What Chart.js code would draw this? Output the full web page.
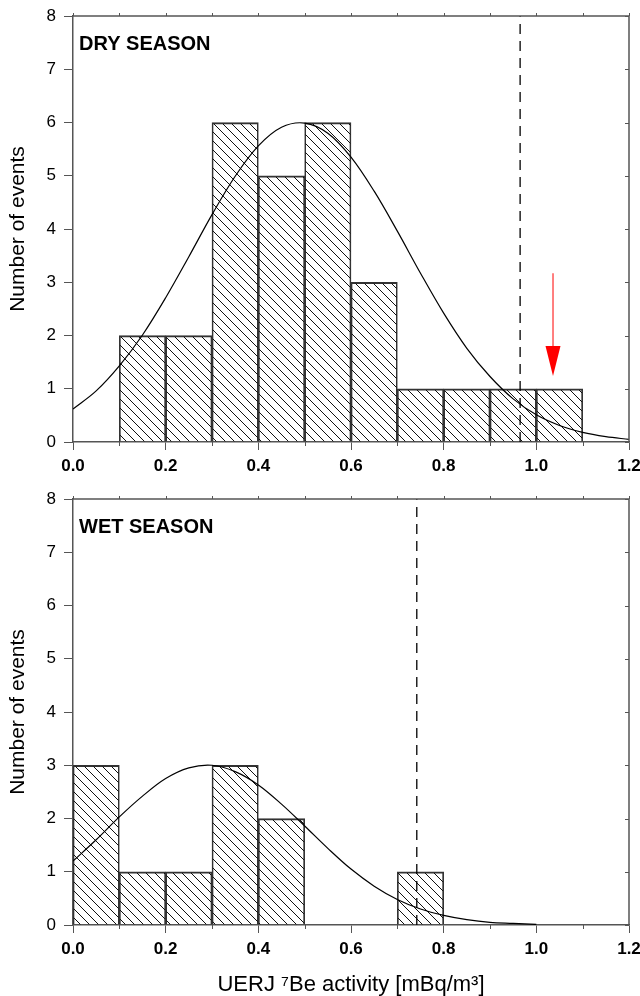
<!DOCTYPE html>
<html lang="en">
<head>
<meta charset="UTF-8">
<script src="https://cdn.jsdelivr.net/npm/chart.js"></script>
<title>UERJ 7Be activity histograms</title>
<style>
  body { margin: 0; background: #fff; }
  .panel { position: absolute; left: 0; width: 640px; }
  #dry { top: 0; height: 484px; }
  #wet { top: 484px; height: 512px; }
</style>
</head>
<body>
<div class="panel" id="dry"><canvas id="dryChart"></canvas></div>
<div class="panel" id="wet"><canvas id="wetChart"></canvas></div>

<script>
// class centres (0.1 wide classes) and number of events
const dryBins = [0.15, 0.25, 0.35, 0.45, 0.55, 0.65, 0.75, 0.85, 0.95, 1.05];
const dryCounts = [2, 2, 6, 5, 6, 3, 1, 1, 1, 1];
const wetBins = [0.05, 0.15, 0.25, 0.35, 0.45, 0.75];
const wetCounts = [3, 1, 1, 3, 2, 1];

// fitted normal curves
const dryCurveX = [0, 0.05, 0.1, 0.15, 0.2, 0.25, 0.3, 0.35, 0.4, 0.45, 0.5, 0.55, 0.6,
  0.65, 0.7, 0.75, 0.8, 0.85, 0.9, 0.95, 1.0, 1.05, 1.1, 1.15, 1.2];
const dryCurveY = [0.62, 0.96, 1.43, 2.01, 2.71, 3.48, 4.27, 4.99, 5.56, 5.91, 5.99, 5.80, 5.35,
  4.71, 3.96, 3.17, 2.42, 1.76, 1.23, 0.81, 0.51, 0.31, 0.18, 0.10, 0.05];
const wetCurveX = [0, 0.05, 0.1, 0.15, 0.2, 0.25, 0.3, 0.35, 0.4, 0.45, 0.5, 0.55, 0.6,
  0.65, 0.7, 0.75, 0.8, 0.85, 0.9, 0.95, 1.0];
const wetCurveY = [1.20, 1.60, 2.03, 2.42, 2.75, 2.95, 3.00, 2.88, 2.63, 2.27, 1.86, 1.44, 1.05,
  0.73, 0.48, 0.30, 0.18, 0.10, 0.05, 0.03, 0.01];

// dashed limit lines and the red arrow (data units)
const dryLimit = 0.965;
const wetLimit = 0.742;
const arrowX = 1.036;
const arrowFrom = 3.17;
const arrowTo = 1.24;

const xMajorTicks = [0, 0.2, 0.4, 0.6, 0.8, 1.0, 1.2];
const xMinorTicks = [0.1, 0.3, 0.5, 0.7, 0.9, 1.1];
const yTicks = [0, 1, 2, 3, 4, 5, 6, 7, 8];

const FONT = "'Liberation Sans', Arial, sans-serif";
const AXIS = '#555';

function hatch() {
  const n = 9;
  const c = document.createElement('canvas');
  c.width = n; c.height = n;
  const g = c.getContext('2d');
  g.strokeStyle = '#111';
  g.lineWidth = 1;
  g.beginPath();
  for (const k of [-n, 0, n]) { g.moveTo(k, 0); g.lineTo(k + n, n); }
  g.stroke();
  return g.createPattern(c, 'repeat');
}

// top / right frame with small ticks, minor ticks on x, panel label, arrow
const extras = {
  id: 'extras',
  afterDraw(chart, args, opts) {
    const { ctx, chartArea: a, scales: { x, y } } = chart;
    ctx.save();
    ctx.strokeStyle = AXIS;
    ctx.lineWidth = 1.5;
    ctx.beginPath();
    ctx.moveTo(a.left, a.top); ctx.lineTo(a.right, a.top); ctx.lineTo(a.right, a.bottom);
    ctx.stroke();
    ctx.lineWidth = 1;
    ctx.beginPath();
    for (const v of xMajorTicks.concat(xMinorTicks)) {
      const px = Math.round(x.getPixelForValue(v)) + 0.5;
      ctx.moveTo(px, a.top); ctx.lineTo(px, a.top - 3);
    }
    for (const v of xMinorTicks) {
      const px = Math.round(x.getPixelForValue(v)) + 0.5;
      ctx.moveTo(px, a.bottom); ctx.lineTo(px, a.bottom + 4);
    }
    for (const v of yTicks) {
      const py = Math.round(y.getPixelForValue(v)) + 0.5;
      ctx.moveTo(a.right, py); ctx.lineTo(a.right - 4, py);
    }
    ctx.stroke();

    ctx.fillStyle = '#000';
    ctx.font = 'bold 20px ' + FONT;
    ctx.textBaseline = 'alphabetic';
    ctx.fillText(opts.label, a.left + 6, a.top + 34);

    if (opts.arrow) {
      const px = x.getPixelForValue(arrowX);
      const y0 = y.getPixelForValue(arrowFrom);
      const y1 = y.getPixelForValue(arrowTo);
      ctx.strokeStyle = '#f55';
      ctx.lineWidth = 1.5;
      ctx.beginPath();
      ctx.moveTo(px, y0); ctx.lineTo(px, y1 - 28);
      ctx.stroke();
      ctx.fillStyle = '#f00';
      ctx.beginPath();
      ctx.moveTo(px - 7.5, y1 - 30); ctx.lineTo(px + 7.5, y1 - 30); ctx.lineTo(px, y1);
      ctx.closePath();
      ctx.fill();
    }
    ctx.restore();
  }
};

function makeChart(id, bins, counts, curveX, curveY, limit, label, arrow, xHeight, padTop, showTitle) {
  new Chart(document.getElementById(id), {
    type: 'bar',
    data: {
      datasets: [
        {
          type: 'line',
          data: curveX.map((v, i) => ({ x: v, y: curveY[i] })),
          borderColor: '#000',
          borderWidth: 1.2,
          pointRadius: 0,
          tension: 0.35,
          order: 1
        },
        {
          type: 'line',
          data: [{ x: limit, y: 0 }, { x: limit, y: 8 }],
          borderColor: '#000',
          borderWidth: 1.3,
          borderDash: [10, 7],
          pointRadius: 0,
          order: 0
        },
        {
          data: bins.map((v, i) => ({ x: v, y: counts[i] })),
          backgroundColor: hatch(),
          borderColor: '#333',
          borderWidth: { top: 1.5, left: 1, right: 1, bottom: 0 },
          borderSkipped: false,
          barPercentage: 1,
          categoryPercentage: 1,
          order: 2
        }
      ]
    },
    options: {
      responsive: true,
      maintainAspectRatio: false,
      animation: false,
      devicePixelRatio: 1,
      layout: { padding: { top: padTop, right: 11, left: 0, bottom: 0 } },
      plugins: {
        legend: { display: false },
        tooltip: { enabled: false },
        extras: { label: label, arrow: arrow }
      },
      scales: {
        x: {
          type: 'linear',
          min: 0,
          max: 1.2,
          offset: false,
          afterBuildTicks: s => { s.ticks = xMajorTicks.map(v => ({ value: v })); },
          afterFit: s => { s.height = xHeight; s.paddingLeft = 0; s.paddingRight = 0; },
          ticks: {
            callback: v => v.toFixed(1),
            font: { family: FONT, size: 17, weight: 'bold' },
            color: '#000',
            padding: 6,
            maxRotation: 0
          },
          grid: { drawOnChartArea: false, offset: false, tickLength: 8, color: AXIS, lineWidth: 1 },
          border: { color: AXIS, width: 1.5 },
          title: {
            display: showTitle,
            text: 'UERJ \u2077Be activity [mBq/m\u00b3]',
            font: { family: FONT, size: 22, lineHeight: 1 },
            color: '#000',
            padding: { top: 0, bottom: 0 }
          }
        },
        y: {
          min: 0,
          max: 8,
          afterBuildTicks: s => { s.ticks = yTicks.map(v => ({ value: v })); },
          afterFit: s => { s.width = 73; s.paddingTop = 0; s.paddingBottom = 0; },
          ticks: {
            font: { family: FONT, size: 17 },
            color: '#000',
            padding: 8
          },
          grid: { drawOnChartArea: false, tickLength: 9, color: AXIS, lineWidth: 1 },
          border: { color: AXIS, width: 1.5 },
          title: {
            display: true,
            text: 'Number of events',
            font: { family: FONT, size: 21 },
            color: '#000',
            padding: { top: 6, bottom: 0 }
          }
        }
      }
    },
    plugins: [extras]
  });
}

makeChart('dryChart', dryBins, dryCounts, dryCurveX, dryCurveY, dryLimit, 'DRY SEASON', true, 42, 16, false);
makeChart('wetChart', wetBins, wetCounts, wetCurveX, wetCurveY, wetLimit, 'WET SEASON', false, 71, 15, true);
</script>
</body>
</html>
